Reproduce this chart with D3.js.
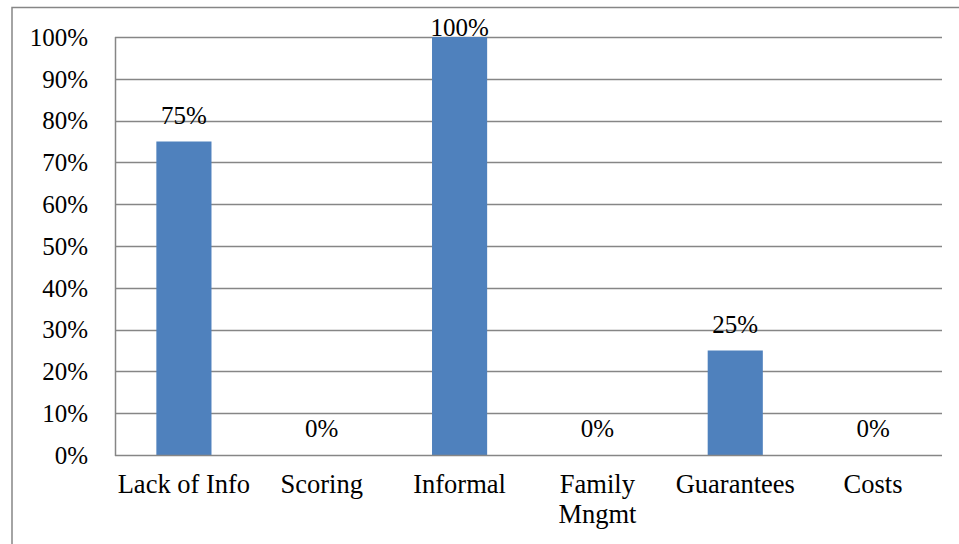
<!DOCTYPE html>
<html><head><meta charset="utf-8">
<script src="https://cdn.jsdelivr.net/npm/d3@7"></script>
<style>html,body{margin:0;padding:0;background:#fff;}svg{display:block;}</style>
</head><body>
<script>
const categories = [["Lack of Info"], ["Scoring"], ["Informal"], ["Family", "Mngmt"], ["Guarantees"], ["Costs"]];
const values = [0.75, 0, 1.0, 0, 0.25, 0];
const tickValues = [0, 0.1, 0.2, 0.3, 0.4, 0.5, 0.6, 0.7, 0.8, 0.9, 1.0];

const W = 959, H = 544;
const m = {left: 115, right: 959 - 942, top: 37, bottom: H - 455};
const svg = d3.select("body").append("svg").attr("width", W).attr("height", H);
const font = "'Liberation Serif', 'Times New Roman', serif";
const grey = "#868686";

svg.append("rect").attr("x", 12).attr("y", 7.5).attr("width", W).attr("height", H)
  .attr("fill", "none").attr("stroke", grey).attr("stroke-width", 1.5);

const x = d3.scaleBand().domain(d3.range(categories.length))
  .range([m.left, W - m.right]).paddingInner(0.6).paddingOuter(0.3);
const y = d3.scaleLinear().domain([0, 1]).range([H - m.bottom, m.top]);

// gridlines
svg.append("g").selectAll("line").data(tickValues.filter(d => d > 0)).join("line")
  .attr("x1", m.left).attr("x2", W - m.right)
  .attr("y1", d => Math.round(y(d)) + 0.5).attr("y2", d => Math.round(y(d)) + 0.5)
  .attr("stroke", grey).attr("stroke-width", 1.5);

// bars
svg.append("g").selectAll("rect").data(values).join("rect")
  .attr("x", (d, i) => x(i)).attr("width", x.bandwidth())
  .attr("y", d => y(d)).attr("height", d => y(0) - y(d))
  .attr("fill", "#4F81BD");

// axes lines
svg.append("line").attr("x1", m.left + 0.5).attr("x2", m.left + 0.5)
  .attr("y1", y(1)).attr("y2", y(0) + 1).attr("stroke", grey).attr("stroke-width", 1.5);
svg.append("line").attr("x1", m.left).attr("x2", W - m.right)
  .attr("y1", Math.round(y(0)) + 0.5).attr("y2", Math.round(y(0)) + 0.5)
  .attr("stroke", grey).attr("stroke-width", 1.5);

// y tick labels
svg.append("g").selectAll("text").data(tickValues).join("text")
  .attr("x", 88).attr("y", d => y(d)).attr("dy", "0.35em")
  .attr("text-anchor", "end").attr("font-family", font).attr("font-size", 25)
  .attr("fill", "#000").text(d => Math.round(d * 100) + "%");

// category labels
const cat = svg.append("g").selectAll("text").data(categories).join("text")
  .attr("text-anchor", "middle").attr("font-family", font).attr("font-size", 26.5)
  .attr("fill", "#000");
cat.each(function(lines, i) {
  const t = d3.select(this);
  lines.forEach((ln, k) => {
    t.append("tspan").attr("x", x(i) + x.bandwidth() / 2).attr("y", 493 + k * 30).text(ln);
  });
});

// data labels
svg.append("g").selectAll("text").data(values).join("text")
  .attr("x", (d, i) => x(i) + x.bandwidth() / 2)
  .attr("y", d => Math.max(y(d) - 18, y(1) - 1))
  .attr("text-anchor", "middle").attr("font-family", font).attr("font-size", 25)
  .attr("fill", "#000").text(d => Math.round(d * 100) + "%");
</script>
</body></html>
